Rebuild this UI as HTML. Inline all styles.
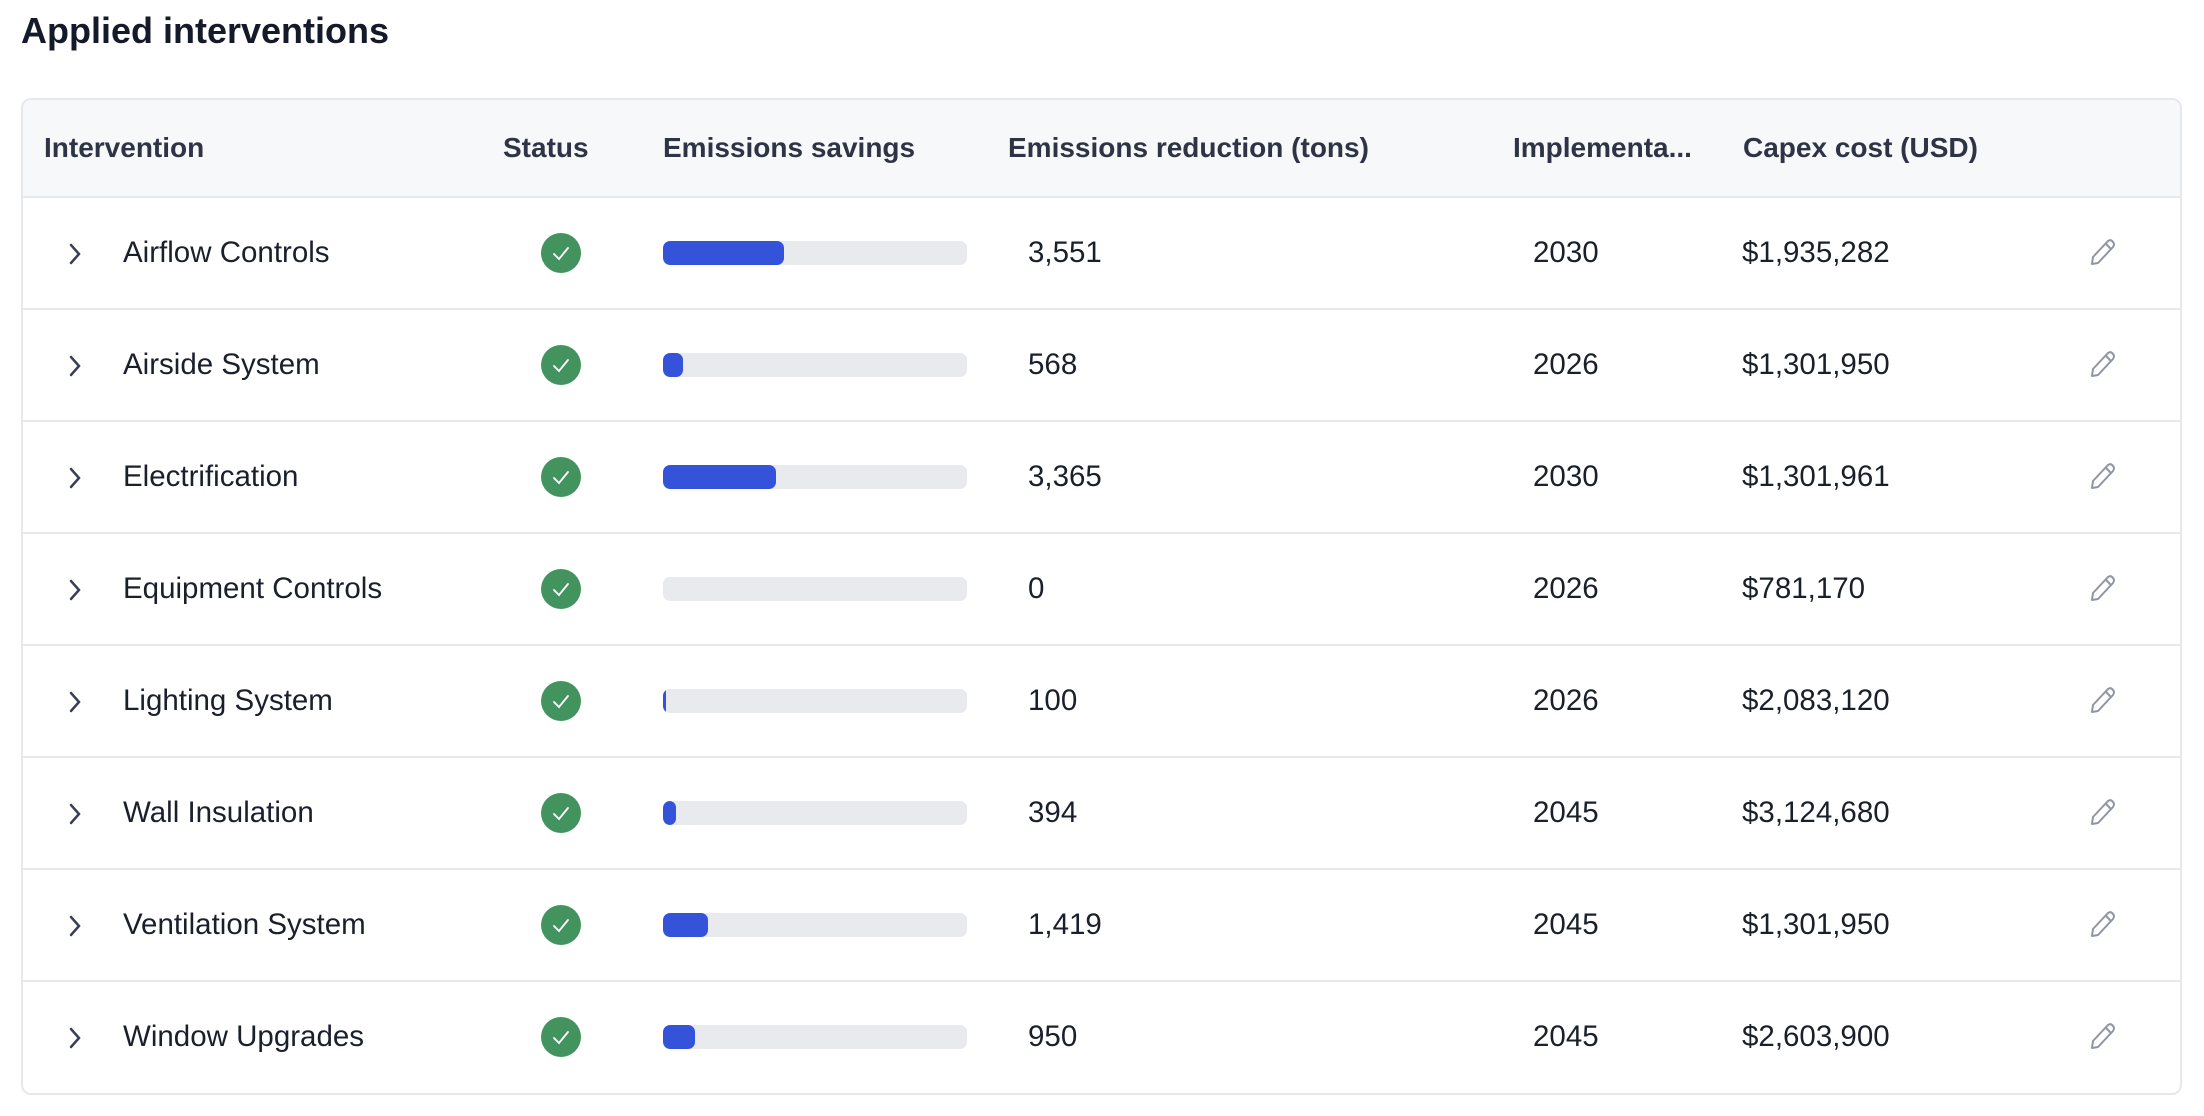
<!DOCTYPE html>
<html><head><style>
body{margin:0;width:2204px;height:1116px;background:#fff;font-family:"Liberation Sans",sans-serif;color:#1a1f2c;position:relative;overflow:hidden}
h1{position:absolute;left:21px;top:10px;margin:0;font-size:36px;font-weight:bold;color:#141a29}
.box{position:absolute;left:21px;top:98px;width:2157px;height:993px;border:2px solid #e6e8ec;border-radius:10px;overflow:hidden}
.hdr{position:absolute;left:0;top:0;width:100%;height:96px;background:#f7f8fa;border-bottom:2px solid #e6e8ec}
.t{position:absolute;font-size:29.5px;white-space:nowrap;transform:translateY(-50%)}
.h{font-weight:bold;color:#2e3446;font-size:28px}
.row{position:absolute;left:0;width:100%;height:110px;border-bottom:2px solid #e8e9ec}
.chk{position:absolute;width:40px;height:40px;border-radius:50%;background:#42935d;left:518px;top:35px}
.bar{position:absolute;left:640px;top:43px;width:304px;height:24px;background:#e9eaee;border-radius:7px;overflow:hidden}
.bar i{position:absolute;left:0;top:0;height:24px;background:#3552db;border-radius:7px}
</style></head><body>
<h1>Applied interventions</h1>
<div class="box">
<div class="hdr">
<span class="t h" style="left:21px;top:48px">Intervention</span>
<span class="t h" style="left:480px;top:48px">Status</span>
<span class="t h" style="left:640px;top:48px">Emissions savings</span>
<span class="t h" style="left:985px;top:48px">Emissions reduction (tons)</span>
<span class="t h" style="left:1490px;top:48px">Implementa...</span>
<span class="t h" style="left:1720px;top:48px">Capex cost (USD)</span>
</div>
<div id="rows"></div>
</div>
<script>
var d=[["Airflow Controls","3,551","2030","$1,935,282",121],["Airside System","568","2026","$1,301,950",20],["Electrification","3,365","2030","$1,301,961",113],["Equipment Controls","0","2026","$781,170",0],["Lighting System","100","2026","$2,083,120",3],["Wall Insulation","394","2045","$3,124,680",13],["Ventilation System","1,419","2045","$1,301,950",45],["Window Upgrades","950","2045","$2,603,900",32]];
var h="";
d.forEach(function(r,i){var top=96+i*112;
h+='<div class="row" style="top:'+(top+2)+'px;'+(i==7?'border-bottom:none':'')+'">'+
'<svg style="position:absolute;left:44px;top:44px" width="16" height="24"><path d="M4 3 L12 12 L4 21" fill="none" stroke="#3a4054" stroke-width="2.5" stroke-linecap="round"/></svg>'+
'<span class="t" style="left:100px;top:55px">'+r[0]+'</span>'+
'<div class="chk"><svg width="40" height="40"><path d="M13 21 L18 26 L27 15" fill="none" stroke="#fff" stroke-width="1.8" stroke-linecap="round"/></svg></div>'+
'<div class="bar">'+(r[4]?'<i style="width:'+r[4]+'px"></i>':'')+'</div>'+
'<span class="t" style="left:1005px;top:55px">'+r[1]+'</span>'+
'<span class="t" style="left:1510px;top:55px">'+r[2]+'</span>'+
'<span class="t" style="left:1719px;top:55px">'+r[3]+'</span>'+
'<svg style="position:absolute;left:2063px;top:39px" width="32" height="32"><path d="M6 27 L7 20 L22 4 Q25 2 27 5 Q29 7 27 10 L12 26 Z M20 7 L25 12" fill="none" stroke="#8f95a3" stroke-width="2" stroke-linejoin="round"/></svg>'+
'</div>';});
document.getElementById("rows").innerHTML=h;
</script>
</body></html>
